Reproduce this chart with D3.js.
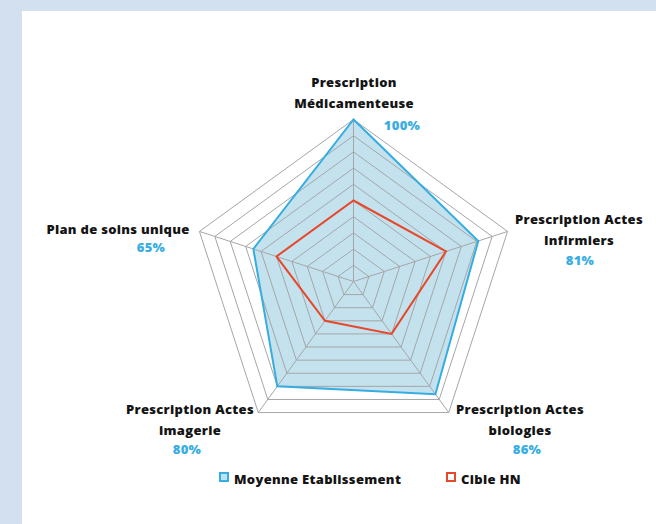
<!DOCTYPE html>
<html><head><meta charset="utf-8">
<script src="https://cdn.jsdelivr.net/npm/d3@7"></script>
<style>
html,body{margin:0;padding:0;background:#d3e0ef;}
svg{display:block;}
</style></head><body>
<svg id="chart" width="656" height="524"></svg>
<script>
const axes = [
  ["Prescription", "Médicamenteuse"],
  ["Prescription Actes", "Infirmiers"],
  ["Prescription Actes", "biologies"],
  ["Prescription Actes", "imagerie"],
  ["Plan de soins unique"]
];
const moyenne = [100, 81, 86, 80, 65];
const cible = [50, 60, 40, 30, 50];
const gridLevels = [10, 20, 30, 40, 50, 60, 70, 80, 90, 100];
const seriesNames = ["Moyenne Etablissement", "Cible HN"];

const svg = d3.select("#chart");
svg.append("rect").attr("x", 22).attr("y", 11).attr("width", 634).attr("height", 513).attr("fill", "#fff");

const cx = 353.5, cy = 281.5, R = 162;
const r = d3.scaleLinear().domain([0, 100]).range([0, R]);
const n = axes.length;
const ang = d3.scaleLinear().domain([0, n]).range([0, 2 * Math.PI]);
const g = svg.append("g").attr("transform", `translate(${cx},${cy})`);
const radial = d3.lineRadial().angle((d, i) => ang(i)).radius(d => r(d)).curve(d3.curveLinearClosed);

g.append("path").datum(moyenne).attr("d", radial)
  .attr("fill", "#9fd1e3").attr("fill-opacity", 0.62).attr("stroke", "none");

gridLevels.forEach(lv => {
  g.append("path").datum(d3.range(n).map(() => lv)).attr("d", radial)
    .attr("fill", "none").attr("stroke", "#a3a6a8").attr("stroke-width", 1);
});
d3.range(n).forEach(i => {
  const a = ang(i);
  g.append("line").attr("x1", 0).attr("y1", 0)
    .attr("x2", r(100) * Math.sin(a)).attr("y2", -r(100) * Math.cos(a))
    .attr("stroke", "#a3a6a8").attr("stroke-width", 1);
});

g.append("path").datum(moyenne).attr("d", radial)
  .attr("fill", "none").attr("stroke", "#35ade0").attr("stroke-width", 2);
g.append("path").datum(cible).attr("d", radial)
  .attr("fill", "none").attr("stroke", "#e8482a").attr("stroke-width", 2);

const font = "'Open Sans', sans-serif";
const labelPos = [
  {x: 354, y: 87, px: 402, py: 130},
  {x: 579, y: 224, px: 580, py: 265},
  {x: 520, y: 414, px: 527, py: 454},
  {x: 190, y: 414, px: 187, py: 454},
  {x: 118, y: 234, px: 151, py: 252}
];
axes.forEach((lines, i) => {
  const p = labelPos[i];
  lines.forEach((t, k) => {
    svg.append("text").attr("x", p.x).attr("y", p.y + k * 21)
      .attr("text-anchor", "middle").attr("font-family", font).attr("font-weight", 800)
      .attr("font-size", 13).attr("fill", "#141414").attr("letter-spacing", 0.3).text(t);
  });
  svg.append("text").attr("x", p.px).attr("y", p.py)
    .attr("text-anchor", "middle").attr("font-family", font).attr("font-weight", 800)
    .attr("font-size", 13).attr("fill", "#3aaee2").attr("letter-spacing", 0.3).text(moyenne[i] + "%");
});

const leg = [
  {x: 220, tx: 234, fill: "#bfe3f1", stroke: "#35ade0"},
  {x: 447, tx: 461, fill: "#fff", stroke: "#e8482a"}
];
seriesNames.forEach((name, i) => {
  const l = leg[i];
  svg.append("rect").attr("x", l.x).attr("y", 473).attr("width", 8).attr("height", 8)
    .attr("fill", l.fill).attr("stroke", l.stroke).attr("stroke-width", 2);
  svg.append("text").attr("x", l.tx).attr("y", 484).attr("font-family", font)
    .attr("font-weight", 800).attr("font-size", 13).attr("fill", "#141414")
    .attr("letter-spacing", 0.3).text(name);
});
</script>
</body></html>
